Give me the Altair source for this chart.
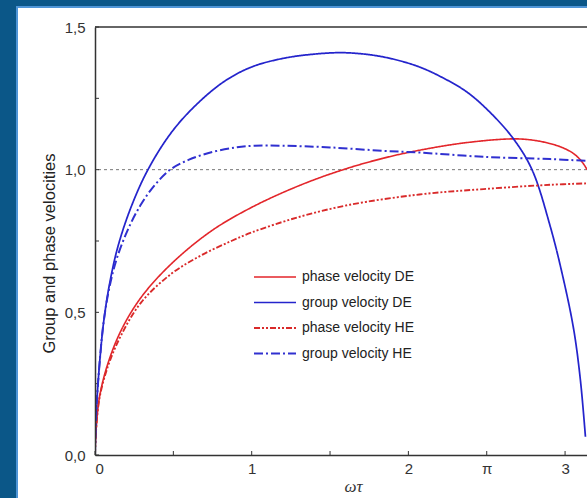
import altair as alt
import pandas as pd

# ---- data ----
gde_x = [0, 0.008, 0.029, 0.056, 0.093, 0.146, 0.231, 0.338, 0.487, 0.647, 0.827, 1.0, 1.2, 1.4,
         1.58, 1.75, 1.9, 2.07, 2.22, 2.374, 2.523, 2.672, 2.789, 2.906, 2.99, 3.056, 3.098, 3.13]
gde_y = [0, 0.15, 0.32, 0.47, 0.60, 0.73, 0.87, 1.0, 1.13, 1.228, 1.31, 1.36, 1.39, 1.405,
         1.41, 1.403, 1.388, 1.36, 1.322, 1.272, 1.2, 1.107, 1.0, 0.80, 0.615, 0.437, 0.262, 0.064]

pde_x = [0, 0.007, 0.029, 0.082, 0.167, 0.295, 0.487, 0.742, 1.0, 1.307, 1.584, 1.839, 2.07,
         2.374, 2.672, 2.80, 2.90, 2.98, 3.05, 3.10, 3.13, 3.14]
pde_y = [0, 0.087, 0.204, 0.32, 0.437, 0.553, 0.67, 0.785, 0.868, 0.945, 1.0, 1.04, 1.068,
         1.095, 1.108, 1.103, 1.092, 1.078, 1.058, 1.033, 1.01, 1.0]

ghe_x = [0, 0.008, 0.029, 0.056, 0.093, 0.14, 0.21, 0.29, 0.38, 0.48, 0.6, 0.75, 0.9, 1.02,
         1.2, 1.5, 1.84, 2.07, 2.48, 2.906, 3.14]
ghe_y = [0, 0.15, 0.32, 0.47, 0.59, 0.69, 0.79, 0.875, 0.945, 1.0, 1.035, 1.062, 1.078, 1.084,
         1.084, 1.078, 1.066, 1.06, 1.045, 1.037, 1.031]

phe_x = [0, 0.007, 0.029, 0.082, 0.167, 0.295, 0.487, 0.679, 0.87, 1.0, 1.307, 1.626, 2.07,
         2.48, 2.906, 3.14]
phe_y = [0, 0.087, 0.2, 0.31, 0.42, 0.535, 0.635, 0.70, 0.75, 0.78, 0.835, 0.877, 0.913,
         0.932, 0.947, 0.952]

series_names = ["phase velocity DE", "group velocity DE", "phase velocity HE", "group velocity HE"]
series_colors = ["#e3262b", "#2424cc", "#d92a2a", "#3030d0"]
series_dash = [[1, 0], [1, 0], [6, 2, 2, 2, 2, 2], [9, 3, 2, 3]]
series_width = [1.6, 2.0, 1.8, 1.8]

x_label_values = [0, 1, 2, 2.5, 3]
x_tick_values = [0, 0.5, 1, 1.5, 2, 2.5, 3]
y_label_values = [0, 0.5, 1.0, 1.5]
y_tick_values = [0, 0.25, 0.5, 0.75, 1.0, 1.25, 1.5]
ref_level = [1.0]
top_level = [1.5]

rows = []
for name, xs, ys in zip(series_names, [pde_x, gde_x, phe_x, ghe_x], [pde_y, gde_y, phe_y, ghe_y]):
    for i, (a, b) in enumerate(zip(xs, ys)):
        rows.append({"series": name, "x": a, "y": b, "order": i})
df = pd.DataFrame(rows)

FONT = "Liberation Sans"
XMAX = 3.14
W, H = 492, 428

xscale = alt.Scale(domain=[0, XMAX], nice=False, zero=False)
yscale = alt.Scale(domain=[0, 1.5], nice=False)

# white panel behind everything
panel = alt.Chart(pd.DataFrame({"k": [0]})).mark_rect(
    fill="white", stroke="#4f95d6", strokeWidth=2
).encode(
    x=alt.value(-78), x2=alt.value(W + 10), y=alt.value(-20), y2=alt.value(H + 60)
)

ref = alt.Chart(pd.DataFrame({"y": ref_level})).mark_rule(
    color="#777777", strokeDash=[3, 3], strokeWidth=1
).encode(y=alt.Y("y:Q", scale=yscale))

top = alt.Chart(pd.DataFrame({"y": top_level})).mark_rule(
    color="#333333", strokeWidth=1.5
).encode(y=alt.Y("y:Q", scale=yscale))

yticks = alt.Chart(pd.DataFrame({"y": y_tick_values})).mark_rule(
    color="#333333", strokeWidth=1
).encode(y=alt.Y("y:Q", scale=yscale), x=alt.value(0), x2=alt.value(4))

xticks = alt.Chart(pd.DataFrame({"x": x_tick_values})).mark_rule(
    color="#333333", strokeWidth=1
).encode(x=alt.X("x:Q", scale=xscale), y=alt.value(H), y2=alt.value(H - 4))

lines = alt.Chart(df).mark_line(interpolate="catmull-rom", clip=True).encode(
    x=alt.X("x:Q", scale=xscale,
            axis=alt.Axis(values=x_label_values, ticks=False, grid=False,
                          labelExpr="datum.value == 2.5 ? 'π' : format(datum.value, 'd')",
                          labelFont=FONT, labelFontSize=15, labelColor="#333333", labelPadding=6,
                          domainColor="#333333", domainWidth=1.5, zindex=1,
                          title="ωτ", titleFont="Liberation Serif", titleFontStyle="italic",
                          titleFontWeight="normal", titleFontSize=17, titleColor="#333333",
                          titleX=258, titlePadding=2)),
    y=alt.Y("y:Q", scale=yscale,
            axis=alt.Axis(values=y_label_values, ticks=False, grid=False,
                          labelExpr="replace(format(datum.value, '.1f'), '.', ',')",
                          labelFont=FONT, labelFontSize=15, labelColor="#333333", labelPadding=10,
                          domainColor="#333333", domainWidth=1.5, zindex=1,
                          title="Group and phase velocities", titleFont=FONT,
                          titleFontWeight="normal", titleFontSize=16.5, titleColor="#222222",
                          titleY=226, titlePadding=7)),
    color=alt.Color("series:N", scale=alt.Scale(domain=series_names, range=series_colors),
                    legend=alt.Legend(title=None, orient="none", legendX=158, legendY=243,
                                      symbolType="stroke", symbolSize=1764, clipHeight=14,
                                      rowPadding=11.5, labelOffset=5, padding=0,
                                      labelFont=FONT, labelFontSize=14, labelColor="#222222",
                                      labelLimit=300)),
    strokeDash=alt.StrokeDash("series:N", scale=alt.Scale(domain=series_names, range=series_dash)),
    strokeWidth=alt.StrokeWidth("series:N", scale=alt.Scale(domain=series_names, range=series_width)),
    order="order:Q",
)

chart = alt.layer(panel, ref, top, yticks, xticks, lines).properties(
    width=W, height=H,
    autosize=alt.AutoSizeParams(type="none"),
    padding={"left": 95, "top": 27, "right": 0, "bottom": 43},
    background="#0b5788",
).configure_view(stroke=None)

chart.save("out.html", embed_options={"renderer": "svg", "actions": False})
